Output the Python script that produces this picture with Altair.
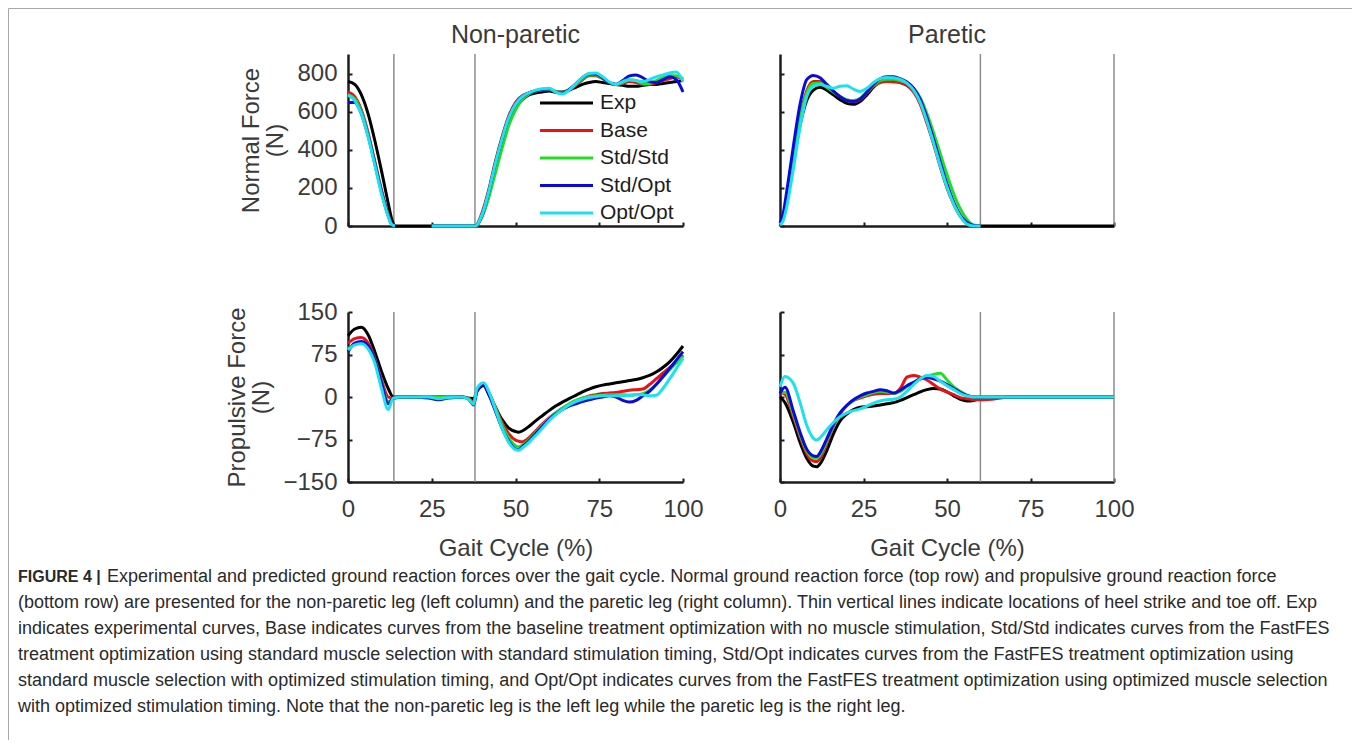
import altair as alt
import pandas as pd

# ---------------- data ----------------
SERIES = ["Exp", "Base", "Std/Std", "Std/Opt", "Opt/Opt"]
COLORS = ["#000000", "#ee1111", "#22dd22", "#0a0adc", "#1ce1ee"]

COL_TITLES = ["Non-paretic", "Paretic"]
ROW_TITLES = [["Normal Force", "(N)"], ["Propulsive Force", "(N)"]]
X_TITLE = "Gait Cycle (%)"
X_TICKS = [0, 25, 50, 75, 100]
NORMAL_TICKS = [0, 200, 400, 600, 800]
PROP_TICKS = [-150, -75, 0, 75, 150]
NORMAL_DOMAIN = [0, 905]
PROP_DOMAIN = [-150, 150]
EVENTS_NONPARETIC = [13.7, 37.9]
EVENTS_PARETIC = [60, 100]

# Non-paretic, normal force (None = not drawn)
NPN_X = [0, 2, 4, 6, 8, 10, 12, 13, 14, 20, 25, 30, 36, 38,
         40, 42, 44, 46, 48, 50, 52, 54, 56, 58, 60, 62, 64, 66, 68, 70,
         72, 74, 76, 78, 80, 82, 84, 86, 88, 90, 92, 94, 96, 98, 100]
NPN_EXP = [760, 745, 690, 590, 450, 290, 120, 40, 0, 0, 0, 0, 0, 0,
           50, 160, 300, 440, 550, 620, 665, 690, 700, 705, 710, 705, 705, 715, 730, 745,
           755, 760, 755, 750, 745, 740, 735, 735, 740, 745, 745, 750, 755, 760, 765]
NPN_BASE = [705, 680, 610, 490, 340, 190, 60, 10, 0, None, 0, 0, 0, 0,
            70, 190, 340, 470, 580, 650, 685, 700, 710, 715, 718, 705, 700, 715, 740, 770,
            790, 790, 775, 755, 745, 750, 760, 755, 745, 745, 755, 765, 775, 785, 770]
NPN_STDSTD = [690, 670, 600, 480, 330, 180, 55, 10, 0, None, 0, 0, 0, 0,
              50, 150, 280, 410, 530, 610, 665, 695, 710, 718, 720, 708, 700, 718, 745, 775,
              795, 795, 778, 755, 745, 755, 770, 765, 750, 750, 765, 780, 790, 790, 775]
NPN_STDOPT = [650, 650, 590, 475, 330, 180, 55, 10, 0, None, 0, 0, 0, 0,
              60, 180, 330, 460, 570, 640, 680, 700, 712, 718, 722, 705, 698, 718, 748, 780,
              800, 800, 780, 755, 745, 765, 790, 795, 780, 760, 755, 770, 785, 770, 705]
NPN_OPTOPT = [690, 660, 590, 470, 320, 170, 50, 8, 0, None, 0, 0, 0, 0,
              60, 180, 330, 460, 570, 640, 680, 700, 715, 722, 725, 705, 695, 715, 748, 782,
              803, 805, 785, 758, 745, 760, 770, 765, 760, 770, 785, 795, 805, 810, 760]

# Paretic, normal force
PN_X = [0, 1, 2, 4, 6, 8, 10, 12, 14, 16, 18, 20, 22, 24, 26, 28, 30, 32, 34, 36,
        38, 40, 42, 44, 46, 48, 50, 52, 54, 56, 58, 60, 70, 80, 90, 100]
PN_EXP = [10, 40, 120, 330, 530, 660, 715, 730, 715, 690, 665, 645, 640, 655, 690, 730, 760, 768, 765, 755,
          740, 710, 650, 550, 440, 320, 210, 120, 55, 15, 0, 0, 0, 0, 0, 0]
PN_BASE = [10, 50, 140, 360, 570, 710, 760, 760, 735, 705, 680, 660, 655, 665, 700, 735, 755, 760, 758, 755,
           740, 705, 640, 540, 430, 310, 200, 115, 50, 12, 0, 0, None, None, None, None]
PN_STDSTD = [10, 45, 130, 350, 560, 700, 750, 752, 730, 705, 682, 665, 660, 672, 705, 740, 765, 772, 772, 765,
             752, 725, 675, 590, 490, 380, 270, 170, 90, 35, 5, 0, None, None, None, None]
PN_STDOPT = [15, 70, 180, 420, 640, 770, 792, 780, 745, 710, 680, 660, 655, 668, 705, 745, 775, 785, 785, 775,
             758, 725, 665, 570, 455, 335, 220, 125, 55, 18, 3, 0, None, None, None, None]
PN_OPTOPT = [5, 30, 100, 300, 520, 680, 735, 745, 735, 725, 735, 738, 720, 708, 725, 755, 775, 782, 780, 772,
             752, 715, 650, 550, 435, 315, 205, 115, 50, 10, 0, 0, None, None, None, None]

# Non-paretic, propulsive force
NPP_X = [0, 2, 4, 6, 8, 10, 12, 13.5, 16, 20, 24, 27, 30, 34, 36, 37.5, 38.5, 40.5, 42,
         44, 46, 48, 50, 51, 52, 54, 56, 58, 60, 62, 64, 66, 68, 70, 72, 74, 76, 78, 80,
         82, 84, 86, 88, 90, 92, 94, 96, 98, 100]
NPP_EXP = [108, 120, 123, 110, 80, 45, 15, 0, 0, 0, 0, 0, 0, 0, -2, -3, 10, 20, 5,
           -18, -40, -55, -61, -62, -60, -52, -42, -33, -24, -16, -9, -3, 3, 9, 14, 18, 21, 23, 25,
           27, 29, 31, 34, 38, 44, 52, 62, 75, 90]
NPP_BASE = [95, 103, 105, 95, 68, 30, 0, -2, 0, 0, 0, 0, 0, 0, -2, -10, 12, 22, 8,
            -18, -45, -65, -76, -78, -79, -72, -60, -48, -37, -28, -20, -13, -7, -2, 2, 4, 6, 7, 8,
            10, 12, 13, 14, 22, 32, 42, 52, 62, 74]
NPP_STDSTD = [85, 93, 95, 88, 65, 25, -8, -3, 0, 0, 0, 0, 0, 0, -3, -12, 12, 23, 8,
              -20, -50, -72, -86, -88, -85, -76, -63, -50, -38, -28, -20, -12, -6, -2, 1, 2, 3, 4, 4,
              4, 3, 4, 6, 12, 22, 35, 48, 60, 72]
NPP_STDOPT = [80, 95, 98, 90, 65, 25, -12, -2, 0, 0, -2, -5, -2, 0, -4, -14, 10, 22, 5,
              -25, -55, -78, -92, -93, -88, -78, -65, -52, -40, -30, -22, -16, -12, -8, -5, -2, 0, 2, 0,
              -6, -9, -6, 2, 10, 22, 36, 50, 65, 80]
NPP_OPTOPT = [83, 92, 94, 85, 60, 15, -22, -2, 0, 0, 0, -3, -1, 0, -4, -13, 15, 25, 10,
              -22, -55, -80, -93, -94, -90, -80, -68, -55, -42, -31, -22, -14, -8, -4, -1, 1, 2, 2, 2,
              2, 3, 4, 4, 2, 3, 15, 32, 50, 68]

# Paretic, propulsive force
PP_X = [0, 1.5, 4, 6, 8, 10, 11, 12, 14, 16, 18, 20, 22, 24, 26, 28, 30, 32, 34, 36,
        38, 40, 42, 44, 46, 48, 50, 52, 54, 56, 58, 60, 70, 80, 90, 100]
PP_EXP = [0, -10, -45, -80, -108, -122, -123, -118, -95, -65, -42, -30, -22, -18, -17, -16, -14, -12, -10, -6,
          -1, 4, 9, 13, 15, 14, 9, 2, -4, -7, -6, -2, 0, 0, 0, 0]
PP_BASE = [8, 5, -35, -70, -100, -113, -114, -108, -82, -52, -30, -15, -6, -2, 2, 5, 6, 6, 6, 15,
           35, 38, 35, 30, 22, 14, 9, 4, -1, -3, -5, -5, 0, 0, 0, 0]
PP_STDSTD = [8, 8, -30, -66, -95, -108, -108, -102, -78, -50, -28, -15, -6, 0, 4, 8, 10, 9, 6, 10,
             18, 25, 32, 36, 40, 42, 30, 18, 10, 3, 0, 0, 0, 0, 0, 0]
PP_STDOPT = [6, 17, -25, -62, -92, -104, -105, -98, -74, -48, -28, -15, -5, 2, 7, 10, 13, 11, 7, 12,
             20, 26, 32, 35, 32, 28, 22, 15, 8, 3, 0, 0, 0, 0, 0, 0]
PP_OPTOPT = [18, 36, 24, -10, -50, -73, -76, -72, -58, -45, -35, -28, -24, -21, -16, -11, -7, -5, -4, 0,
             10, 22, 32, 38, 36, 28, 20, 13, 6, 2, 0, 0, 0, 0, 0, 0]

CAPTION_HEAD = "FIGURE 4 |"
CAPTION_LINES = [
    "Experimental and predicted ground reaction forces over the gait cycle. Normal ground reaction force (top row) and propulsive ground reaction force",
    "(bottom row) are presented for the non-paretic leg (left column) and the paretic leg (right column). Thin vertical lines indicate locations of heel strike and toe off. Exp",
    "indicates experimental curves, Base indicates curves from the baseline treatment optimization with no muscle stimulation, Std/Std indicates curves from the FastFES",
    "treatment optimization using standard muscle selection with standard stimulation timing, Std/Opt indicates curves from the FastFES treatment optimization using",
    "standard muscle selection with optimized stimulation timing, and Opt/Opt indicates curves from the FastFES treatment optimization using optimized muscle selection",
    "with optimized stimulation timing. Note that the non-paretic leg is the left leg while the paretic leg is the right leg.",
]

# ---------------- layout / style ----------------
W, H = 1344, 732
FONT = "Liberation Sans"
TXT = "#3a3a3a"
AXC = "#1c1c1c"
LEFT_X = (340, 675)
RIGHT_X = (772, 1106)
TOP_Y = (218, 46)
BOT_Y = (474, 304)
COLOR_SCALE = alt.Scale(domain=SERIES, range=COLORS)


def long_df(xs, series_vals):
    rows = []
    for k, (name, vals) in enumerate(zip(SERIES, series_vals)):
        seg = 0
        for x, v in zip(xs, vals):
            if v is None:
                seg += 1
                continue
            rows.append({"x": x, "v": v, "series": name, "seg": f"{k}-{seg}"})
    return pd.DataFrame(rows)


def axis_common():
    return dict(grid=False, labelFont=FONT, labelFontSize=24, labelColor=TXT,
                titleFont=FONT, titleFontSize=24, titleColor=TXT, titleFontWeight="normal",
                domainColor=AXC, domainWidth=2.5, labelFlush=False, labelOverlap=False)


def panel(xs, vals, xr, yr, ydom, yticks, events, title, ytitle, show_xlab, show_ylab):
    df = long_df(xs, vals)
    xsc = alt.Scale(domain=[0, 100], range=list(xr), nice=False, zero=False)
    ysc = alt.Scale(domain=ydom, range=list(yr), nice=False, zero=False)

    xax = dict(axis_common(), orient="bottom", offset=yr[0] - H, values=X_TICKS,
               ticks=False, labels=show_xlab, labelPadding=15, titlePadding=15)
    xax["title"] = X_TITLE if show_xlab else None
    yax = dict(axis_common(), orient="left", offset=-xr[0], values=yticks,
               ticks=False, labels=show_ylab, labelPadding=11, titlePadding=9,
               titleLineHeight=24)
    yax["title"] = ytitle if show_ylab else None

    lines = alt.Chart(df).mark_line(strokeWidth=3, interpolate="monotone").encode(
        x=alt.X("x:Q", scale=xsc, axis=alt.Axis(**xax)),
        y=alt.Y("v:Q", scale=ysc, axis=alt.Axis(**yax)),
        color=alt.Color("series:N", scale=COLOR_SCALE, legend=None),
        detail="seg:N",
    )
    main = lines
    if title:
        head = alt.Chart(pd.DataFrame({"t": [title]})).mark_text(
            font=FONT, fontSize=25, color=TXT, baseline="middle"
        ).encode(text="t:N", x=alt.datum(50), y=alt.value(27))
        main = alt.layer(lines, head)

    ev = pd.DataFrame({"e": events, "lo": [ydom[0]] * len(events), "hi": [ydom[1]] * len(events)})
    tick_common = dict(labels=False, domain=False, ticks=True, tickSize=4, tickWidth=2,
                       tickColor=AXC, grid=False, title=None)
    rules = alt.Chart(ev).mark_rule(color="#8c8c8c", strokeWidth=1.5).encode(
        x=alt.X("e:Q", scale=xsc,
                axis=alt.Axis(orient="top", offset=-yr[0], values=X_TICKS, **tick_common)),
        y=alt.Y("lo:Q", scale=ysc,
                axis=alt.Axis(orient="right", offset=xr[0] - W, values=yticks, **tick_common)),
        y2="hi:Q",
    )
    return [rules, main]


layers = []
layers += panel(NPN_X, [NPN_EXP, NPN_BASE, NPN_STDSTD, NPN_STDOPT, NPN_OPTOPT],
                LEFT_X, TOP_Y, NORMAL_DOMAIN, NORMAL_TICKS, EVENTS_NONPARETIC,
                COL_TITLES[0], ROW_TITLES[0], False, True)
layers += panel(PN_X, [PN_EXP, PN_BASE, PN_STDSTD, PN_STDOPT, PN_OPTOPT],
                RIGHT_X, TOP_Y, NORMAL_DOMAIN, NORMAL_TICKS, EVENTS_PARETIC,
                COL_TITLES[1], ROW_TITLES[0], False, False)
layers += panel(NPP_X, [NPP_EXP, NPP_BASE, NPP_STDSTD, NPP_STDOPT, NPP_OPTOPT],
                LEFT_X, BOT_Y, PROP_DOMAIN, PROP_TICKS, EVENTS_NONPARETIC,
                None, ROW_TITLES[1], True, True)
layers += panel(PP_X, [PP_EXP, PP_BASE, PP_STDSTD, PP_STDOPT, PP_OPTOPT],
                RIGHT_X, BOT_Y, PROP_DOMAIN, PROP_TICKS, EVENTS_PARETIC,
                None, ROW_TITLES[1], True, False)

# legend drawn inside the top-left panel (rows placed by a linear scale on the entry index)
leg_df = pd.DataFrame({"series": SERIES, "k": list(range(len(SERIES)))})
leg_scale = alt.Scale(domain=[0, len(SERIES) - 1], range=[95, 205], nice=False, zero=False)
leg_lines = alt.Chart(leg_df).mark_rule(strokeWidth=3).encode(
    y=alt.Y("k:Q", scale=leg_scale, axis=None),
    x=alt.value(532), x2=alt.value(585),
    color=alt.Color("series:N", scale=COLOR_SCALE, legend=None),
)
leg_text = alt.Chart(leg_df).mark_text(
    align="left", baseline="middle", font=FONT, fontSize=21, color="#1e1e1e"
).encode(y=alt.Y("k:Q", scale=leg_scale, axis=None), x=alt.value(592), text="series:N")
layers.append(alt.layer(leg_lines, leg_text))

# caption
CAP_SIZE = 18
CAP_COLOR = "#2a2a2a"
CAP_Y = [569, 595, 621, 647, 673, 699]
layers.append(alt.Chart(pd.DataFrame({"t": [CAPTION_HEAD]})).mark_text(
    align="left", baseline="middle", font=FONT, fontSize=16, fontWeight="bold", color=CAP_COLOR
).encode(text="t:N", x=alt.value(10), y=alt.value(CAP_Y[0])))
for i, line in enumerate(CAPTION_LINES):
    layers.append(alt.Chart(pd.DataFrame({"t": [line]})).mark_text(
        align="left", baseline="middle", font=FONT, fontSize=CAP_SIZE, color=CAP_COLOR
    ).encode(text="t:N", x=alt.value(99 if i == 0 else 10), y=alt.value(CAP_Y[i])))

chart = alt.layer(*layers).resolve_scale(
    x="independent", y="independent"
).resolve_axis(
    x="independent", y="independent"
).properties(
    width=W, height=H, padding=0, background="white",
    autosize=alt.AutoSizeParams(type="none"),
).configure_view(stroke="#a8a8a8", strokeWidth=1)

chart.save("out.html", embed_options={"renderer": "svg", "actions": False})
